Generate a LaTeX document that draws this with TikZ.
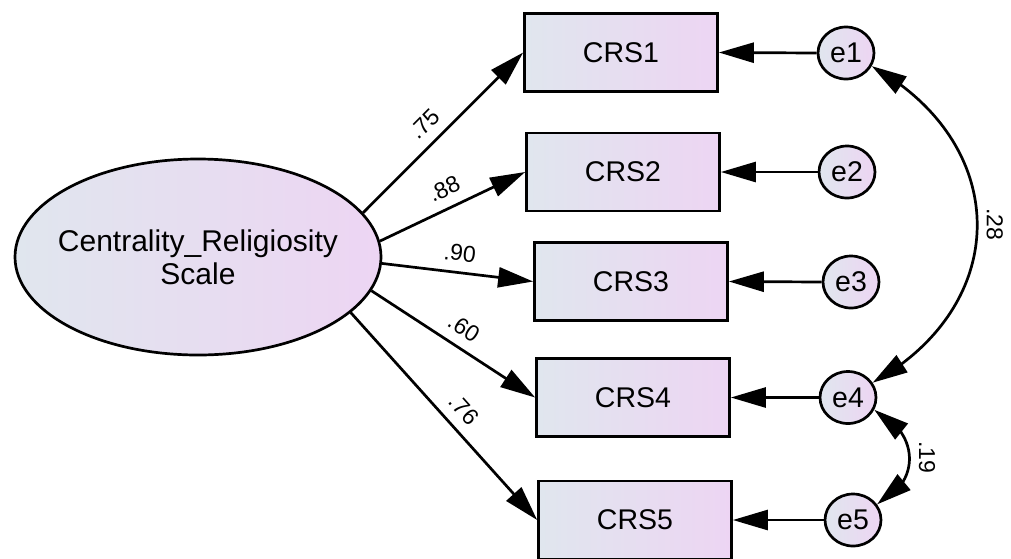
\documentclass[tikz,border=0pt]{standalone}
\usepackage{fontspec}
\setmainfont{Liberation Sans}
\usetikzlibrary{shapes.geometric,arrows.meta,bending}
\definecolor{gl}{HTML}{E0E6EE}
\definecolor{gr}{HTML}{EDD5F3}
\tikzset{
  big/.style={font=\fontsize{28.5}{33}\selectfont},
  obsbox/.style={draw, line width=2.7pt, rectangle, minimum width=193pt, minimum height=78pt, inner sep=0pt, left color=gl, right color=gr, big},
  errnode/.style={draw, line width=2.7pt, ellipse, minimum width=56pt, minimum height=52pt, inner sep=0pt, left color=gl, right color=gr, big},
  latnode/.style={draw, line width=2.7pt, ellipse, minimum width=366pt, minimum height=196pt, inner xsep=-60pt, inner ysep=0pt, left color=gl, right color=gr, font=\fontsize{30}{33}\selectfont, align=center},
  ld/.style={line width=2.7pt, -{Triangle[length=35pt,width=20pt]}},
  cov/.style={line width=2.7pt, {Triangle[length=35pt,width=20pt,flex]}-{Triangle[length=35pt,width=20pt,flex]}},
  lbl/.style={font=\fontsize{23}{23}\selectfont, sloped, above=8pt, inner sep=2pt},
  clbl/.style={font=\fontsize{23}{23}\selectfont, rotate=-90, anchor=south, inner sep=8pt}
}
\begin{document}
\begin{tikzpicture}[x=1pt,y=-1pt]
\useasboundingbox (0,0) rectangle (1011,558);
\node[latnode] (lat) at (198,257) {Centrality\_Religiosity\\Scale};
\node[obsbox] (c1) at (621,52.5) {CRS1};
\node[obsbox] (c2) at (623,172) {CRS2};
\node[obsbox] (c3) at (631,281.5) {CRS3};
\node[obsbox] (c4) at (633,397.5) {CRS4};
\node[obsbox] (c5) at (635,520) {CRS5};
\node[errnode] (e1) at (846,53) {e1};
\node[errnode] (e2) at (847,172) {e2};
\node[errnode] (e3) at (851,282) {e3};
\node[errnode] (e4) at (848,397.5) {e4};
\node[errnode] (e5) at (853,520) {e5};
\draw[ld] (lat.15) -- (c1.west) node[lbl, pos=0.47] {.75};
\draw[ld] (lat.5) -- (c2.west) node[lbl, pos=0.5] {.88};
\draw[ld] (lat.-2) -- (c3.west) node[lbl, pos=0.5] {.90};
\draw[ld] (lat.-11) -- (c4.west) node[lbl, pos=0.5] {.60};
\draw[ld] (lat.-20) -- (c5.west) node[lbl, pos=0.53] {.76};
\draw[ld] (e1.west) -- (c1.east);
\draw[ld] (e2.west) -- (c2.east);
\draw[ld] (e3.west) -- (c3.east);
\draw[ld] (e4.west) -- (c4.east);
\draw[ld] (e5.west) -- (c5.east);
\draw[cov] (e1.-27) .. controls +(140,78) and +(140,-78) .. (e4.31) node[clbl, pos=0.5] {.28};
\draw[cov] (e4.-25) .. controls +(45,22) and +(45,-22) .. (e5.33) node[clbl, pos=0.5] {.19};
\end{tikzpicture}
\end{document}
